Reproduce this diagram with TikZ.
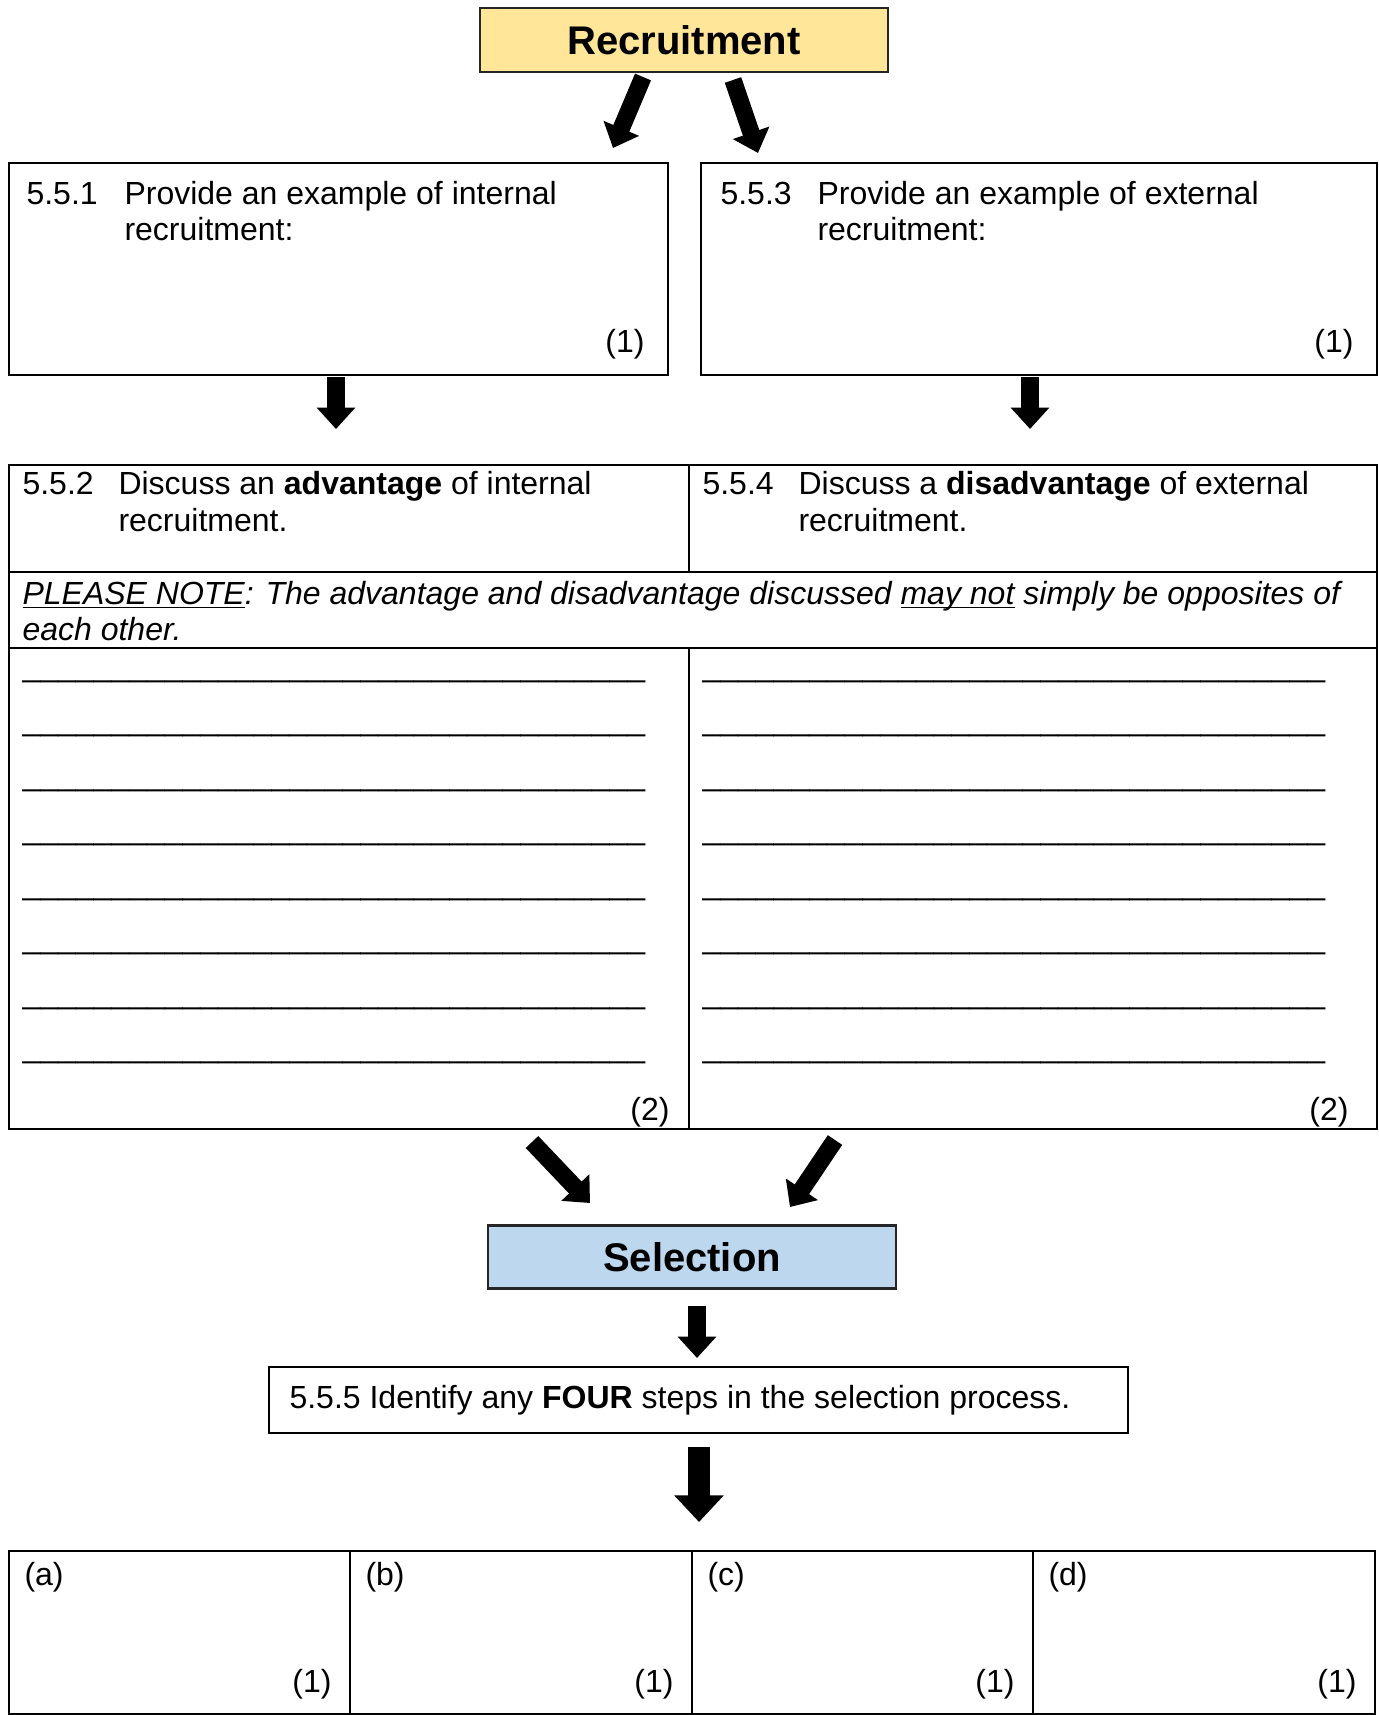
\documentclass[tikz,border=0pt]{standalone}
\usepackage{fontspec}
\setmainfont{Liberation Sans}
\usetikzlibrary{arrows.meta}
\definecolor{recyellow}{HTML}{FFE699}
\definecolor{selblue}{HTML}{BDD7EE}
\newcommand{\pxu}{0.375pt}
\newcommand{\answerblank}{\_\_\_\_\_\_\_\_\_\_\_\_\_\_\_\_\_\_\_\_\_\_\_\_\_\_\_\_\_\_\_\_\_\_\_}
\newcommand{\ulword}[1]{\underline{\smash{#1}}}

\begin{document}
\begin{tikzpicture}[x=0.375pt, y=-0.375pt,
  box/.style={draw, line width=0.7pt, inner sep=0pt, anchor=north west},
  headbox/.style={draw=black!85, line width=0.8pt, inner sep=0pt,
    font=\fontsize{15}{18}\selectfont\bfseries},
  txt/.style={anchor=base west, inner sep=0pt, font=\fontsize{12}{14}\selectfont},
  score/.style={anchor=base east, inner sep=0pt, font=\fontsize{12}{14}\selectfont},
  blockarrow/.style={line width=6.5pt, -{Triangle[length=8pt, width=14pt]}},
]
\useasboundingbox (0,0) rectangle (1378,1715);

% Recruitment
\node[headbox, fill=recyellow, minimum width=408*\pxu, minimum height=64*\pxu] (rec) at (684,40) {Recruitment};

% 5.5.1 and 5.5.3
\node[box, minimum width=659*\pxu, minimum height=212*\pxu] (q1) at (8,162) {};
\node[box, minimum width=676*\pxu, minimum height=212*\pxu] (q3) at (700,162) {};
\node[txt] (q1n) at (26,205) {5.5.1};
\node[txt] (q1a) at (124,205) {Provide an example of internal};
\node[txt] (q1b) at (124,241) {recruitment:};
\node[score] (q1s) at (645,352) {(1)};
\node[txt] (q3n) at (720,205) {5.5.3};
\node[txt] (q3a) at (817,205) {Provide an example of external};
\node[txt] (q3b) at (817,241) {recruitment:};
\node[score] (q3s) at (1354,352) {(1)};

% Table 5.5.2 / 5.5.4
\node[box, minimum width=680*\pxu, minimum height=107*\pxu] (q2) at (8,464) {};
\node[box, minimum width=688*\pxu, minimum height=107*\pxu] (q4) at (688,464) {};
\node[box, minimum width=1368*\pxu, minimum height=76*\pxu] (note) at (8,571) {};
\node[box, minimum width=680*\pxu, minimum height=481*\pxu] (ansl) at (8,647) {};
\node[box, minimum width=688*\pxu, minimum height=481*\pxu] (ansr) at (688,647) {};
\node[txt] (q2n) at (22,494) {5.5.2};
\node[txt] (q2a) at (118,494) {Discuss an \textbf{advantage} of internal};
\node[txt] (q2b) at (118,531) {recruitment.};
\node[txt] (q4n) at (702,494) {5.5.4};
\node[txt] (q4a) at (798,494) {Discuss a \textbf{disadvantage} of external};
\node[txt] (q4b) at (798,531) {recruitment.};
\node[txt] (notea) at (22,604) {\itshape\ulword{PLEASE NOTE}: The advantage and disadvantage discussed \ulword{may not} simply be opposites of};
\node[txt] (noteb) at (22,640) {\itshape each other.};
% answer lines
\foreach \r in {0,...,7} {
  \node[txt] (bl\r) at (22,{676+54.5*\r}) {\answerblank};
  \node[txt] (br\r) at (702,{676+54.5*\r}) {\answerblank};
}
\node[score] (q2s) at (670,1120) {(2)};
\node[score] (q4s) at (1349,1120) {(2)};

% Selection
\node[headbox, fill=selblue, minimum width=408*\pxu, minimum height=63*\pxu] (sel) at (692,1257) {Selection};
\node[box, minimum width=859*\pxu, minimum height=66*\pxu] (q5) at (268,1366) {};
\node[txt] (q5a) at (289,1408) {5.5.5 Identify any \textbf{FOUR} steps in the selection process.};

% steps (a)-(d)
\foreach \n/\x/\w in {a/8/341, b/349/342, c/691/341, d/1032/342} {
  \node[box, minimum width=\w*\pxu, minimum height=163*\pxu] (step\n) at (\x,1550) {};
  \node[txt] (step\n l) at (\x+16,1585) {(\n)};
  \node[score] (step\n s) at (\x+\w-17,1692) {(1)};
}

% arrows
\coordinate (a1s) at (643,77);   \coordinate (a1e) at (613,148);
\coordinate (a2s) at (733,80);   \coordinate (a2e) at (758,153);
\coordinate (a3s) at (336,377);  \coordinate (a3e) at (336,429);
\coordinate (a4s) at (1030,377); \coordinate (a4e) at (1030,429);
\coordinate (a5s) at (532,1142); \coordinate (a5e) at (590,1203);
\coordinate (a6s) at (835,1140); \coordinate (a6e) at (790,1207);
\coordinate (a7s) at (697,1306); \coordinate (a7e) at (697,1358);
\coordinate (a8s) at (699,1447); \coordinate (a8e) at (699,1522);
\draw[blockarrow] (a1s) -- (a1e);
\draw[blockarrow] (a2s) -- (a2e);
\draw[blockarrow] (a3s) -- (a3e);
\draw[blockarrow] (a4s) -- (a4e);
\draw[blockarrow] (a5s) -- (a5e);
\draw[blockarrow] (a6s) -- (a6e);
\draw[blockarrow] (a7s) -- (a7e);
\draw[blockarrow, line width=8pt, -{Triangle[length=10pt, width=18pt]}] (a8s) -- (a8e);
\end{tikzpicture}
\end{document}
